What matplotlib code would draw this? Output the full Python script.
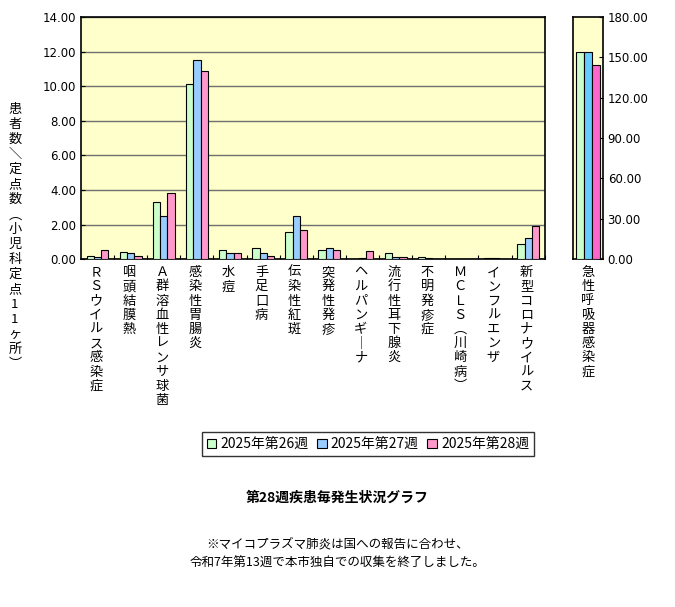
import matplotlib.pyplot as plt
import numpy as np

plt.rcParams['font.family'] = 'Noto Sans CJK JP'

diseases = ['ＲＳウイルス感染症', '咽頭結膜熱', 'Ａ群溶血性レンサ球菌', '感染性胃腸炎', '水痘',
            '手足口病', '伝染性紅斑', '突発性発疹', 'ヘルパンギーナ', '流行性耳下腺炎',
            '不明発疹症', 'ＭＣＬＳ（川崎病）', 'インフルエンザ', '新型コロナウイルス']
week26 = [0.21, 0.44, 3.33, 10.10, 0.52, 0.62, 1.56, 0.52, 0.00, 0.33, 0.15, 0.00, 0.04, 0.90]
week27 = [0.15, 0.33, 2.52, 11.54, 0.33, 0.33, 2.52, 0.67, 0.04, 0.15, 0.04, 0.00, 0.04, 1.25]
week28 = [0.52, 0.21, 3.80, 10.90, 0.33, 0.21, 1.71, 0.52, 0.46, 0.15, 0.00, 0.00, 0.00, 1.90]
resp_label = '急性呼吸器感染症'
resp = [154.0, 154.0, 144.5]
series = ['2025年第26週', '2025年第27週', '2025年第28週']
colors = ['#ccffcc', '#99ccff', '#ff99cc']
resp_colors = ['#ccffcc', '#66ccff', '#ff66cc']


def vert(s):
    s = s.replace('ー', '｜').replace('（', '︵').replace('）', '︶').replace('／', '＼')
    return '\n'.join(s)


fig = plt.figure(figsize=(6.75, 6.07), dpi=100)
ax = fig.add_axes([0.12, 0.573, 0.687, 0.399])
ax.set_facecolor('#ffffcc')
x = np.arange(len(diseases))
w = 0.22
for i, (vals, c, lab) in enumerate(zip([week26, week27, week28], colors, series)):
    ax.bar(x + (i - 1) * w, vals, w, color=c, edgecolor='black', linewidth=0.8, label=lab, zorder=3)
ax.set_xlim(-0.5, len(diseases) - 0.5)
ax.set_ylim(0, 14)
ax.set_yticks(np.arange(0, 14.1, 2))
ax.set_yticklabels([f'{v:.2f}' for v in np.arange(0, 14.1, 2)], fontsize=8.5, family='DejaVu Sans')
ax.yaxis.grid(True, color='#707070', linewidth=1, zorder=0)
ax.set_xticks(x + 0.5, minor=False)
ax.set_xticklabels([])
ax.tick_params(axis='x', length=3, direction='in')
ax.tick_params(axis='y', length=3, direction='in')
for xi, name in zip(x, diseases):
    ax.text(xi - 0.05, -0.4, vert(name), ha='center', va='top', fontsize=9.5, linespacing=1.12)
for s in ax.spines.values():
    s.set_linewidth(1.2)

fig.text(0.022, 0.83, vert('患者数／定点数（小児科定点11ヶ所）'), ha='center', va='top',
         fontsize=9.5, linespacing=1.2)

ax2 = fig.add_axes([0.849, 0.573, 0.044, 0.399])
ax2.set_facecolor('#ffffcc')
w2 = 0.26
for i, (v, c) in enumerate(zip(resp, resp_colors)):
    ax2.bar((i - 1) * w2, v, w2, color=c, edgecolor='black', linewidth=0.8, zorder=3)
ax2.set_xlim(-0.5, 0.5)
ax2.set_ylim(0, 180)
ax2.yaxis.tick_right()
ax2.set_yticks(np.arange(0, 181, 30))
ax2.set_yticklabels([f'{v:.2f}' for v in np.arange(0, 181, 30)], fontsize=8.5, family='DejaVu Sans')
ax2.tick_params(axis='y', length=3, direction='in')
ax2.set_xticks([])
ax2.text(0, -5, vert(resp_label), ha='center', va='top', fontsize=9.5, linespacing=1.12)
for s in ax2.spines.values():
    s.set_linewidth(1.2)

handles, labels = ax.get_legend_handles_labels()
fig.legend(handles, labels, loc='center', bbox_to_anchor=(0.545, 0.268), ncol=3, fontsize=10,
           frameon=True, edgecolor='black', fancybox=False, handlelength=0.7, handleheight=0.7,
           handletextpad=0.3, columnspacing=0.6, borderpad=0.35)

fig.text(0.5, 0.18, '第28週疾患毎発生状況グラフ', ha='center', va='center', fontsize=10, fontweight='bold')
fig.text(0.5, 0.088, '※マイコプラズマ肺炎は国への報告に合わせ、\n令和7年第13週で本市独自での収集を終了しました。',
         ha='center', va='center', fontsize=9, linespacing=1.6)

fig.savefig('out.png', dpi=100)
